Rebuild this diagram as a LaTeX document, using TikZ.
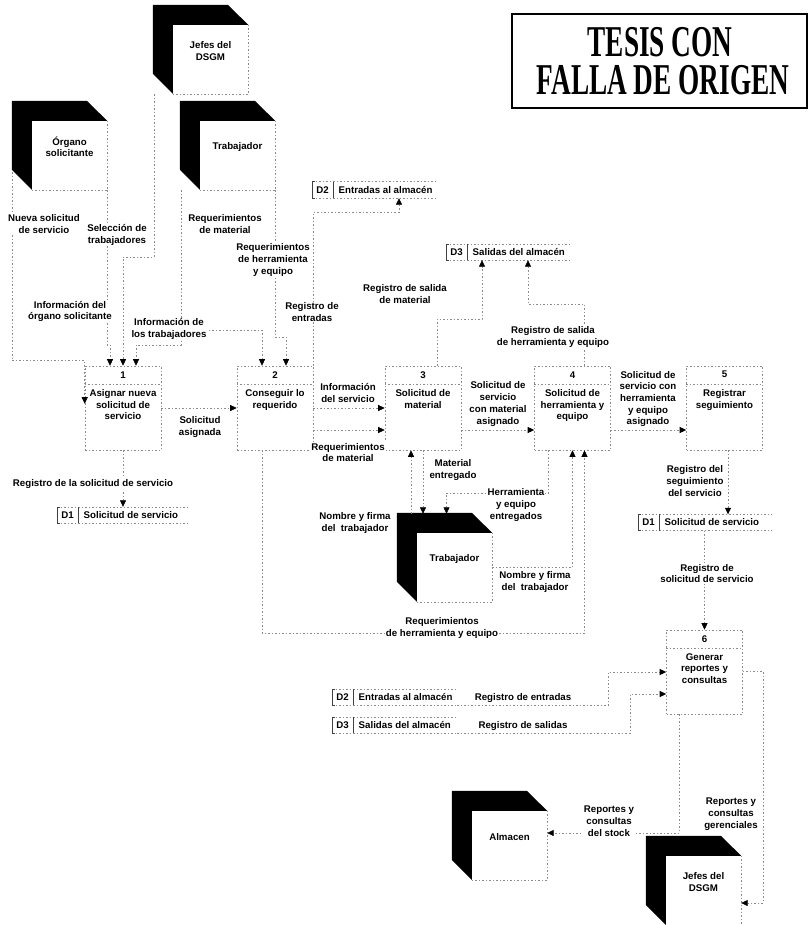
\documentclass[tikz,border=0pt]{standalone}
\usepackage{fontspec}
\setmainfont{Liberation Sans}
\newfontfamily\sellofont{Liberation Serif}
\usepackage{tikz}
\usetikzlibrary{arrows.meta}
\newcommand{\entidad}[3]{%
  \node[entcaja] (#1) at #2 {};
  \fill (#1.north west) -- ++(0,69) -- ++(-20,-20) -- ++(0,-69) -- ++(75,0) -- (#1.north east) -- cycle;
  \draw[borde] (#1.north east) -- (#1.south east) -- (#1.south west);
  \node[txt] (#1-t) at ([yshift=-26pt]#1.north) {#3};}
\newcommand{\deposito}[5]{%
  \node[anchor=west, minimum width=#5pt, minimum height=16pt, inner sep=0pt] (#1) at #2 {};
  \draw[borde] (#1.north west) -- (#1.north east) (#1.south west) -- (#1.south east);
  \draw[corchete] ([xshift=3pt]#1.north west) -- (#1.north west) -- (#1.south west) -- ([xshift=3pt]#1.south west);
  \draw[corchete] ([xshift=21pt]#1.north west) -- ([xshift=21pt]#1.south west);
  \node[txt] (#1-id) at ([xshift=10.5pt]#1.west) {#3};
  \node[txt, anchor=west] (#1-t) at ([xshift=26pt]#1.west) {#4};}

\begin{document}
\begin{tikzpicture}[
  x=1pt,y=-1pt,
  txt/.style={font=\fontsize{9.7}{11.7}\selectfont\bfseries, align=center, inner sep=0.5pt},
  etq/.style={txt, fill=white, inner sep=1pt},
  borde/.style={draw=black!45, line width=0.6pt, dash pattern=on 1.5pt off 2pt},
  corchete/.style={draw=black!75, line width=0.6pt},
  flujo/.style={borde, -{Triangle[length=6.5pt, width=6pt, color=black]}},
  proceso/.style={borde, minimum width=76pt, minimum height=84pt, inner sep=0pt},
  entcaja/.style={minimum width=75pt, minimum height=69pt, inner sep=0pt},
  sello/.style={font=\sellofont\bfseries\fontsize{44}{44}\selectfont, inner sep=0pt, text height=29pt, text depth=0pt}]
\path[use as bounding box, fill=white] (0,0) rectangle (811,925);
\node[draw, line width=2.5pt, minimum width=295pt, minimum height=94pt, inner sep=0pt] (sello) at (659.5,61) {};
\node[sello] (sello1) at (660,42.5) {\scalebox{0.62}[1]{TESIS CON}};
\node[sello] (sello2) at (663,80.5) {\scalebox{0.62}[1]{FALLA DE ORIGEN}};
\entidad{jefes}{(210.5,59.5)}{Jefes del\\DSGM}
\entidad{organo}{(69.5,155.5)}{Órgano\\solicitante}
\entidad{trab}{(237.5,155.5)}{Trabajador}
\entidad{trabb}{(454.5,567.5)}{Trabajador}
\entidad{almacen}{(509.5,845.5)}{Almacen}
\entidad{jefesb}{(703.5,890.5)}{Jefes del\\DSGM}
\foreach \n/\x/\y/\t in {1/123/408/{Asignar nueva\\solicitud de\\servicio}, 2/275/408/{Conseguir lo\\requerido},
  3/423/408/{Solicitud de\\material}, 4/572.5/408/{Solicitud de\\herramienta y\\equipo},
  5/724.5/408/{Registrar\\seguimiento}, 6/704.5/672/{Generar\\reportes y\\consultas}}{
  \node[proceso] (p\n) at (\x,\y) {};
  \node[txt] (p\n-n) at ([yshift=-9pt]p\n.north) {\n};
  \draw[borde] ([yshift=-19pt]p\n.north west) -- ([yshift=-19pt]p\n.north east);
  \node[txt, anchor=north] (p\n-t) at ([yshift=-23pt]p\n.north) {\t};
}
\deposito{d1a}{(57,515)}{D1}{Solicitud de servicio}{131}
\deposito{d2a}{(312,190)}{D2}{Entradas al almacén}{123}
\deposito{d3a}{(446,252)}{D3}{Salidas del almacén}{124}
\deposito{d1b}{(638,522.5)}{D1}{Solicitud de servicio}{134}
\deposito{d2b}{(332,697)}{D2}{Entradas al almacén}{125}
\deposito{d3b}{(332,725)}{D3}{Salidas del almacén}{125}
\coordinate (d2in) at ([xshift=87pt]d2a.south west);
\coordinate (d3inA) at ([xshift=36pt]d3a.south west);
\coordinate (d3inB) at ([xshift=82pt]d3a.south west);
\coordinate (d1bin) at ([xshift=90pt]d1b.north west);
\coordinate (tbtop) at ([yshift=19pt]trabb.north);
\draw[flujo] ([shift={(-20,-18)}]organo.south west) |- ([yshift=5pt]p1.north west) -- ([yshift=-38pt]p1.north west);
\draw[flujo] ([xshift=-19pt]jefes.south west) -- ++(0,163) -| (p1.north);
\draw[flujo] (organo.south east) -- ++(0,155) -| ([xshift=-13pt]p1.north);
\draw[flujo] ([xshift=-19pt]trab.south west) -- ++(0,155) -| ([xshift=13pt]p1.north);
\draw[flujo] ([xshift=-19pt]trab.south west) -- ++(0,140) -| ([xshift=-13pt]p2.north);
\draw[flujo] (trab.south east) -- ++(0,147) -| ([xshift=11pt]p2.north);
\draw[flujo] (p1.east) -- (p2.west);
\draw[flujo] (p1.south) -- (p1.south |- d1a.north);
\draw[flujo] (p2.north east) |- ([yshift=-14pt]d2in) -- (d2in);
\draw[flujo] (p2.east) -- (p3.west);
\draw[flujo] ([yshift=-22pt]p2.east) -- ([yshift=-22pt]p3.west);
\draw[flujo] ([yshift=-22pt]p3.east) -- ([yshift=-22pt]p4.west);
\draw[flujo] ([yshift=-22pt]p4.east) -- ([yshift=-22pt]p5.west);
\draw[flujo] ([xshift=14pt]p3.north) |- ([yshift=-59pt]d3inA) -- (d3inA);
\draw[flujo] ([xshift=12pt]p4.north) |- ([yshift=-44pt]d3inB) -- (d3inB);
\draw[flujo] ([xshift=-43.5pt]tbtop) -- ([xshift=-12pt]p3.south);
\draw[flujo] (p3.south) -- (p3.south |- tbtop);
\draw[flujo] ([xshift=-24pt]p4.south) |- ([shift={(-8,-21)}]tbtop) -- ([xshift=-8pt]tbtop);
\draw[flujo] (trabb.east) -| (p4.south);
\draw[flujo] ([xshift=-13pt]p2.south) -- ++(0,183) -| ([xshift=12pt]p4.south);
\draw[flujo] (p5.south -| d1bin) -- (d1bin);
\draw[flujo] (p6.north |- d1b.south) -- (p6.north);
\draw[flujo] (d2b.south east) -| ([xshift=-58pt]p6.west) -- (p6.west);
\draw[flujo] (d3b.south east) -| ([shift={(-36,22)}]p6.west) -- ([shift={(0,22)}]p6.west);
\draw[flujo] ([xshift=-25pt]p6.south) |- ([yshift=12.5pt]almacen.east);
\draw[flujo] ([yshift=1pt]p6.east) -- ++(20,0) |- ([yshift=-12.5pt]jefesb.east);
\node[etq] (lnueva) at (44,224) {Nueva solicitud\\de servicio};
\node[etq] (lselec) at (117,235) {Selección de\\trabajadores};
\node[etq] (lreqmat) at (225,224) {Requerimientos\\de material};
\node[etq] (lreqher) at (273,260) {Requerimientos\\de herramienta\\y equipo};
\node[etq] (linforg) at (70,311.5) {Información del\\órgano solicitante};
\node[etq] (linftrab) at (169,329) {Información de\\los trabajadores};
\node[etq] (lregent) at (312,312) {Registro de\\entradas};
\node[etq] (lsalmat) at (405,294) {Registro de salida\\de material};
\node[etq] (lsalher) at (553,337) {Registro de salida\\de herramienta y equipo};
\node[etq] (lasig) at (200,427) {Solicitud\\asignada};
\node[etq] (linfserv) at (348,393) {Información\\del servicio};
\node[etq] (lreqmat2) at (348,452.5) {Requerimientos\\de material};
\node[etq] (lregsol) at (93,484) {Registro de la solicitud de servicio};
\node[etq] (lconmat) at (498,404) {Solicitud de\\servicio\\con material\\asignado};
\node[etq] (lconher) at (648,399) {Solicitud de\\servicio con\\herramienta\\y equipo\\asignado};
\node[etq] (lmatent) at (453,470) {Material\\entregado};
\node[etq] (lherent) at (516,505) {Herramienta\\y equipo\\entregados};
\node[etq] (lfirma) at (355,523) {Nombre y firma\\del~ trabajador};
\node[etq] (lfirmab) at (535,582) {Nombre y firma\\del~ trabajador};
\node[etq] (lseg) at (695,481) {Registro del\\seguimiento\\del servicio};
\node[etq] (lregsolb) at (707,573.5) {Registro de\\solicitud de servicio};
\node[etq] (lreqherb) at (442,628) {Requerimientos\\de herramienta y equipo};
\node[etq] (lregentb) at (523,698) {Registro de entradas};
\node[etq] (lregsalb) at (523,726) {Registro de salidas};
\node[etq] (lstock) at (609,821) {Reportes y\\consultas\\del stock};
\node[etq] (lgeren) at (731,814) {Reportes y\\consultas\\gerenciales};
\end{tikzpicture}
\end{document}
